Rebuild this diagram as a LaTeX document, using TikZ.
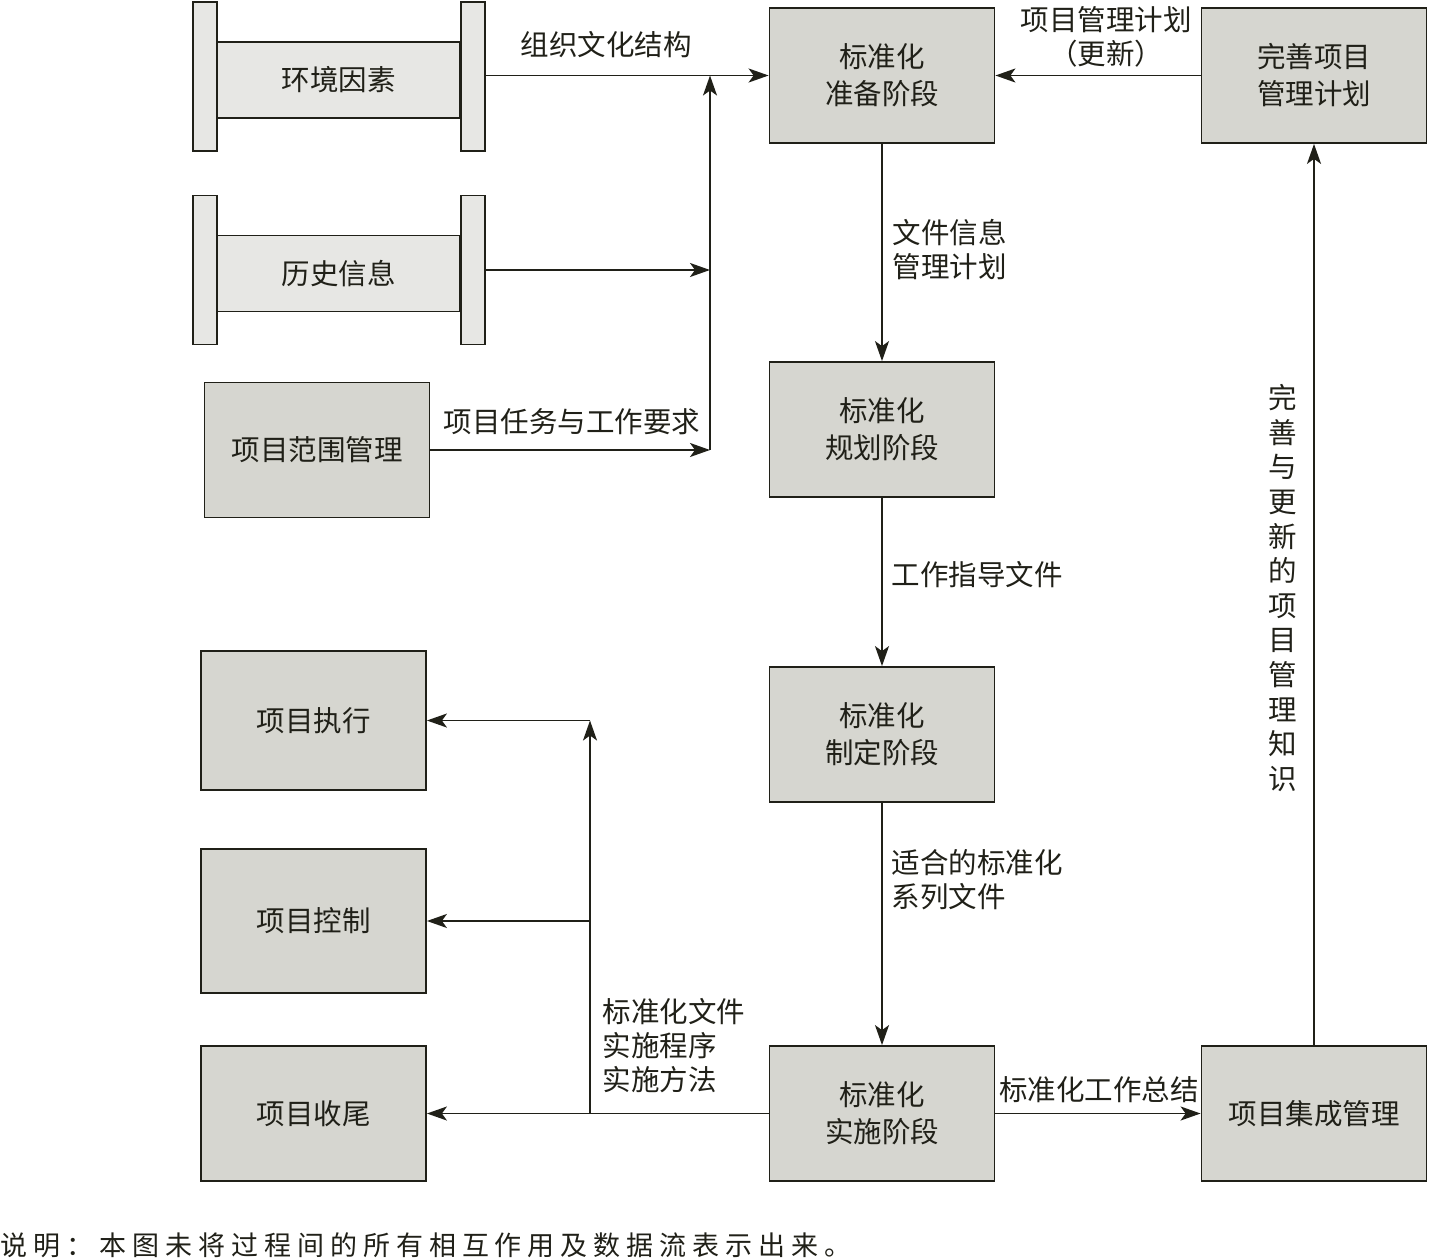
\documentclass[tikz,border=0pt]{standalone}
\usepackage{fontspec}
\setmainfont{Noto Sans CJK SC}
\newfontfamily\notefont[LetterSpace=22]{Noto Sans CJK SC}
\usetikzlibrary{arrows.meta}

\definecolor{boxgray}{RGB}{214,214,208}
\definecolor{rollgray}{RGB}{231,231,228}
\definecolor{inkdark}{RGB}{32,32,24}

\begin{document}
\begin{tikzpicture}[x=1pt, y=-1pt, >={Stealth[length=20pt,width=14pt,inset=5pt]},
        color=inkdark, line width=1.8pt,
        proc/.style={draw, fill=boxgray, minimum width=225pt, minimum height=135pt, inner sep=0pt, align=center, font={\fontsize{28.5}{37}\selectfont}},
        roll/.style={draw, fill=rollgray, minimum width=243pt, minimum height=76pt, inner sep=0pt, font={\fontsize{28.5}{37}\selectfont}},
        bar/.style={draw, fill=rollgray, minimum width=24pt, minimum height=149pt, inner sep=0pt},
        lbl/.style={inner sep=0pt, align=left, font={\fontsize{28.5}{34}\selectfont}}]
        \useasboundingbox (0,0) rectangle (1429,1260);
        \node[roll] (env) at (338.5,80) {环境因素};
        \node[bar] (envL) at (205,76.5) {};
        \node[bar] (envR) at (473,76.5) {};
        \node[roll] (hist) at (338.5,273.5) {历史信息};
        \node[bar] (histL) at (205,270) {};
        \node[bar] (histR) at (473,270) {};
        \node[proc] (scope) at (317,450) {项目范围管理};
        \node[proc] (prep) at (882,75.5) {标准化\\准备阶段};
        \node[proc] (refine) at (1314,75.5) {完善项目\\管理计划};
        \node[proc] (plan) at (882,429.5) {标准化\\规划阶段};
        \node[proc] (make) at (882,734.5) {标准化\\制定阶段};
        \node[proc] (impl) at (882,1113.5) {标准化\\实施阶段};
        \node[proc] (integ) at (1314,1113.5) {项目集成管理};
        \node[proc, minimum height=139pt] (exec) at (313.5,720.5) {项目执行};
        \node[proc, minimum height=144pt] (ctrl) at (313.5,921) {项目控制};
        \node[proc] (close) at (313.5,1113.5) {项目收尾};
        \coordinate (join) at (710,75.5);
        \coordinate (fork) at (590,1113.5);
        \draw[->] (envR.east |- join) -- (join -| prep.west);
        \draw[->] (histR.east) -- (histR.east -| join);
        \draw[->] (scope.east) -- (scope.east -| join);
        \draw[->] (scope.east -| join) -- (join);
        \draw[->] (refine) -- (prep);
        \draw[->] (prep) -- (plan);
        \draw[->] (plan) -- (make);
        \draw[->] (make) -- (impl);
        \draw[->] (impl) -- (integ);
        \draw[->] (integ) -- (refine);
        \draw[->] (impl) -- (close);
        \draw[->] (fork) -- (fork |- exec);
        \draw[->] (fork |- exec) -- (exec);
        \draw[->] (fork |- ctrl) -- (ctrl);
        \node[lbl] (culture) at (606,45) {组织文化结构};
        \node[lbl] (tasks) at (572,422) {项目任务与工作要求};
        \node[lbl, align=center] (update) at (1106,37) {项目管理计划\\（更新）};
        \node[lbl, anchor=west] (docinfo) at (892,250) {文件信息\\管理计划};
        \node[lbl, anchor=west] (guide) at (891,575) {工作指导文件};
        \node[lbl, anchor=west] (series) at (891,880) {适合的标准化\\系列文件};
        \node[lbl] (summary) at (1099,1090) {标准化工作总结};
        \node[lbl, anchor=west] (method) at (602,1046) {标准化文件\\实施程序\\实施方法};
        \node[lbl, align=center, font={\fontsize{28.5}{34.6}\selectfont}] (know) at (1283,588) {完\\善\\与\\更\\新\\的\\项\\目\\管\\理\\知\\识};
        \node[inner sep=0pt, anchor=west, font={\notefont\fontsize{27}{32}\selectfont}] (note) at (0,1245) {说明：本图未将过程间的所有相互作用及数据流表示出来。};
\end{tikzpicture}
\end{document}
